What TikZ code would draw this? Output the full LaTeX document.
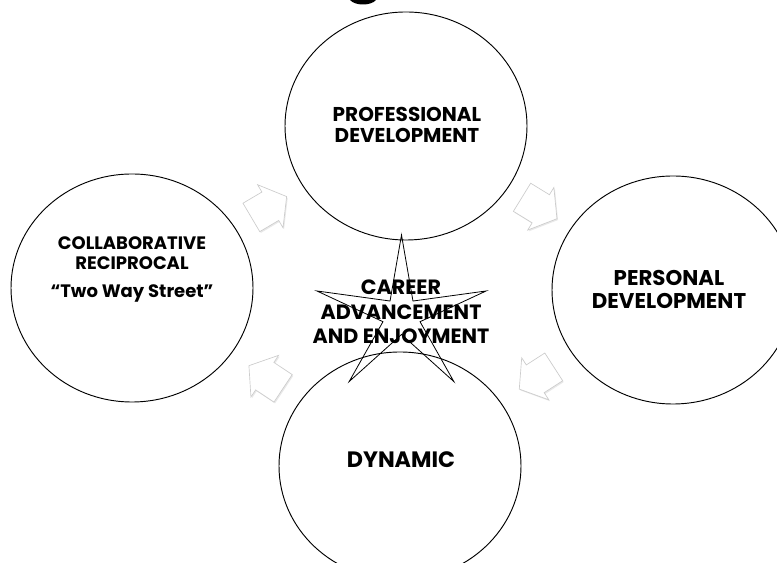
\documentclass[tikz,border=0pt]{standalone}
\usepackage{fontspec}
\setmainfont{Poppins}
\usetikzlibrary{calc,shapes.geometric,shadows}
\tikzset{
  stage/.style={ellipse,draw,fill=white,line width=0.7pt,minimum width=181.5pt,minimum height=171pt,inner sep=0pt},
  stagetext/.style={align=center,inner sep=0pt},
  starline/.style={line width=0.6pt,line join=miter},
  cyclearrow/.pic={
    \path[fill=white,draw=black!20,line width=0.5pt,
      drop shadow={opacity=0.18,shadow xshift=0.8pt,shadow yshift=-1pt}]
      (-20.5,-16.5)--(1.5,-16.5)--(1.5,-25)--(20.5,0)--(1.5,25)--(1.5,16.5)--(-20.5,16.5)--cycle;
  }
}
\begin{document}
\begin{tikzpicture}[x=0.75pt,y=0.75pt]
  \clip (0,0) rectangle (777,563);
  \fill (350,563) .. controls (355,557) and (371,557) .. (376,563) -- cycle; %title cut off

  \node[stage] (prof) at (406,437) {};
  \node[stage] (pers) at (673,273) {};
  \node[stage] (dyn) at (400,97) {};
  \node[stage] (collab) at (132,275) {};

  % arrows between the circles
  \foreach \a/\b in {collab/prof,prof/pers,pers/dyn,dyn/collab}
    \path let \p1=($(\b)-(\a)$), \n1={atan2(\y1,\x1)} in
      pic[rotate=\n1] (\a-\b) at ($(\a)!0.5!(\b)$) {cyclearrow};

  % star
  \draw[starline,shift={(401.5,247)}] (90:89 and 81)
    \foreach \t in {0,72,144,216}{ -- (\t+126:19.5 and 18.5) -- (\t+162:89 and 81)}
    -- (54:19.5 and 18.5) -- cycle;

  \node[stagetext,font=\bfseries\fontsize{15}{15.75}\selectfont] (proftext) at (407,438) {PROFESSIONAL\\DEVELOPMENT};
  \node[stagetext,font=\bfseries\fontsize{16}{17.25}\selectfont] (perstext) at (669,273.5) {PERSONAL\\DEVELOPMENT};
  \node[stagetext,font=\bfseries\fontsize{16.7}{17}\selectfont] (dyntext) at (401,103.3) {DYNAMIC};
  \node[stagetext,font=\bfseries\fontsize{13.5}{15}\selectfont] (collabtext) at (132,293.5) {COLLABORATIVE\\RECIPROCAL\\[5.8pt]“Two Way Street”};
  \node[stagetext,font=\bfseries\fontsize{15.5}{18.4}\selectfont] (goaltext) at (401,251) {CAREER\\ADVANCEMENT\\AND ENJOYMENT};
\end{tikzpicture}
\end{document}
